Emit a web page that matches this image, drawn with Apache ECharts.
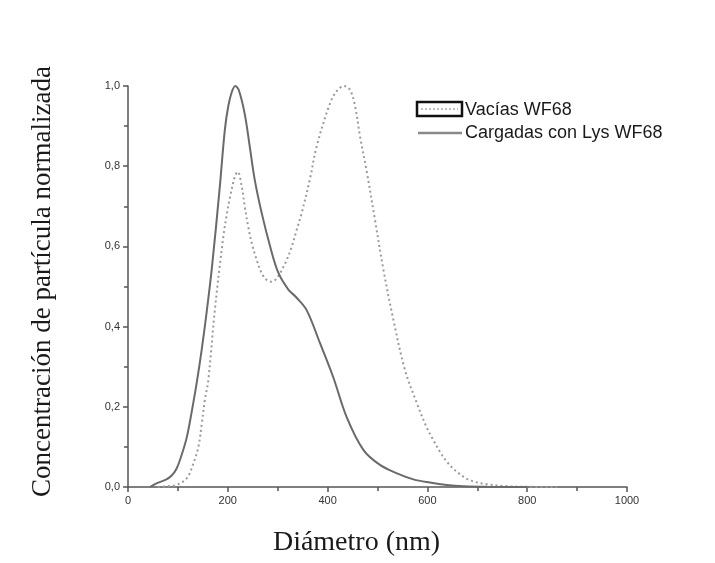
<!DOCTYPE html>
<html><head><meta charset="utf-8">
<script src="https://cdn.jsdelivr.net/npm/echarts@6/dist/echarts.min.js"></script>
<style>html,body{margin:0;padding:0;background:#fff}#c{width:715px;height:563px}</style>
</head><body><div id="c"></div>
<script>
const seriesNames = ['Vacías WF68', 'Cargadas con Lys WF68'];
const xTicks = [0, 200, 400, 600, 800, 1000];
const yTicks = [0, 0.2, 0.4, 0.6, 0.8, 1.0];
const vaciasX = [60, 80, 97, 118, 131, 141, 148, 154, 161, 174, 191, 198, 204, 214, 220, 228, 234, 241, 248, 258, 268, 278, 288, 298, 308, 318, 328, 338, 348, 365, 378, 405, 420, 433, 445, 455, 465, 478, 495, 512, 532, 555, 578, 598, 612, 625, 639, 659, 685, 719, 759, 800, 860];
const vaciasY = [0, 0.002, 0.005, 0.022, 0.059, 0.10, 0.159, 0.217, 0.267, 0.441, 0.624, 0.68, 0.72, 0.774, 0.786, 0.749, 0.699, 0.649, 0.608, 0.566, 0.533, 0.516, 0.512, 0.520, 0.541, 0.566, 0.599, 0.641, 0.683, 0.77, 0.849, 0.957, 0.99, 1.0, 0.99, 0.95, 0.874, 0.79, 0.666, 0.541, 0.416, 0.292, 0.212, 0.15, 0.117, 0.088, 0.063, 0.038, 0.017, 0.007, 0.002, 0.0005, 0];
const cargadasX = [44, 57, 77, 87, 97, 107, 118, 128, 138, 148, 158, 168, 184, 194, 201, 208, 215, 222, 234, 244, 254, 268, 285, 301, 321, 338, 358, 385, 411, 438, 472, 505, 539, 572, 605, 639, 672, 720, 800];
const cargadasY = [0, 0.009, 0.019, 0.028, 0.045, 0.078, 0.125, 0.19, 0.262, 0.345, 0.44, 0.545, 0.749, 0.89, 0.95, 0.985, 1.0, 0.99, 0.93, 0.849, 0.766, 0.683, 0.599, 0.535, 0.493, 0.472, 0.441, 0.358, 0.275, 0.175, 0.092, 0.055, 0.034, 0.019, 0.011, 0.005, 0.002, 0.0005, 0];

const pair = (xs, ys) => xs.map((x, i) => [x, ys[i]]);
const chart = echarts.init(document.getElementById('c'));
const axisCol = '#555';
const hidden = { itemStyle: { opacity: 0 }, lineStyle: { opacity: 0 }, icon: 'rect' };
chart.setOption({
  animation: false,
  grid: { left: 128, right: 88, top: 86, bottom: 76 },
  legend: {
    left: 417, top: 101, orient: 'vertical', padding: 0, itemWidth: 43, itemHeight: 14, itemGap: 5,
    textStyle: { fontFamily: 'Liberation Sans, Arial', fontSize: 18, lineHeight: 18, color: '#1a1a1a' },
    data: [
      Object.assign({ name: seriesNames[0] }, hidden),
      Object.assign({ name: seriesNames[1] }, hidden)
    ]
  },
  xAxis: {
    type: 'value', min: xTicks[0], max: xTicks[xTicks.length - 1], interval: 200,
    name: 'Diámetro (nm)', nameLocation: 'middle', nameGap: 42,
    nameTextStyle: { fontFamily: 'Liberation Serif, serif', fontSize: 28, color: '#1a1a1a', padding: [0, 42, 0, 0] },
    axisLine: { lineStyle: { color: axisCol, width: 1.5 } },
    axisTick: { show: true, inside: false, length: 5, lineStyle: { color: axisCol, width: 1.5 } },
    minorTick: { show: true, splitNumber: 2, length: 4, lineStyle: { color: axisCol, width: 1.5 } },
    axisLabel: { fontFamily: 'Liberation Sans, Arial', fontSize: 11, color: '#333', margin: 8,
      formatter: v => String(v) },
    splitLine: { show: false }
  },
  yAxis: {
    type: 'value', min: yTicks[0], max: yTicks[yTicks.length - 1], interval: 0.2,
    name: 'Concentración de partícula normalizada', nameLocation: 'middle', nameGap: 72,
    nameTextStyle: { fontFamily: 'Liberation Serif, serif', fontSize: 27, color: '#1a1a1a', padding: [0, 0, 0, 10] },
    axisLine: { show: true, lineStyle: { color: axisCol, width: 1.5 } },
    axisTick: { show: true, inside: false, length: 5, lineStyle: { color: axisCol, width: 1.5 } },
    minorTick: { show: true, splitNumber: 2, length: 4, lineStyle: { color: axisCol, width: 1.5 } },
    axisLabel: { fontFamily: 'Liberation Sans, Arial', fontSize: 11, color: '#333', margin: 8,
      formatter: v => v.toFixed(1).replace('.', ',') },
    splitLine: { show: false }
  },
  series: [
    { name: seriesNames[0], type: 'line', smooth: 0.35, symbol: 'none',
      data: pair(vaciasX, vaciasY),
      lineStyle: { color: '#9a9a9a', width: 2, type: [2, 3] }, itemStyle: { color: '#9a9a9a' } },
    { name: seriesNames[1], type: 'line', smooth: 0.35, symbol: 'none',
      data: pair(cargadasX, cargadasY),
      lineStyle: { color: '#6a6a6a', width: 2 }, itemStyle: { color: '#6a6a6a' } }
  ],
  graphic: [
    { type: 'rect', shape: { x: 417, y: 102, width: 45, height: 14 },
      style: { fill: 'none', stroke: '#111', lineWidth: 2.5 } },
    { type: 'line', shape: { x1: 421, y1: 109, x2: 458, y2: 109 },
      style: { stroke: '#aaa', lineWidth: 1.5, lineDash: [2, 2] } },
    { type: 'line', shape: { x1: 418, y1: 133, x2: 462, y2: 133 },
      style: { stroke: '#8a8a8a', lineWidth: 2.5 } }
  ]
});
</script></body></html>
